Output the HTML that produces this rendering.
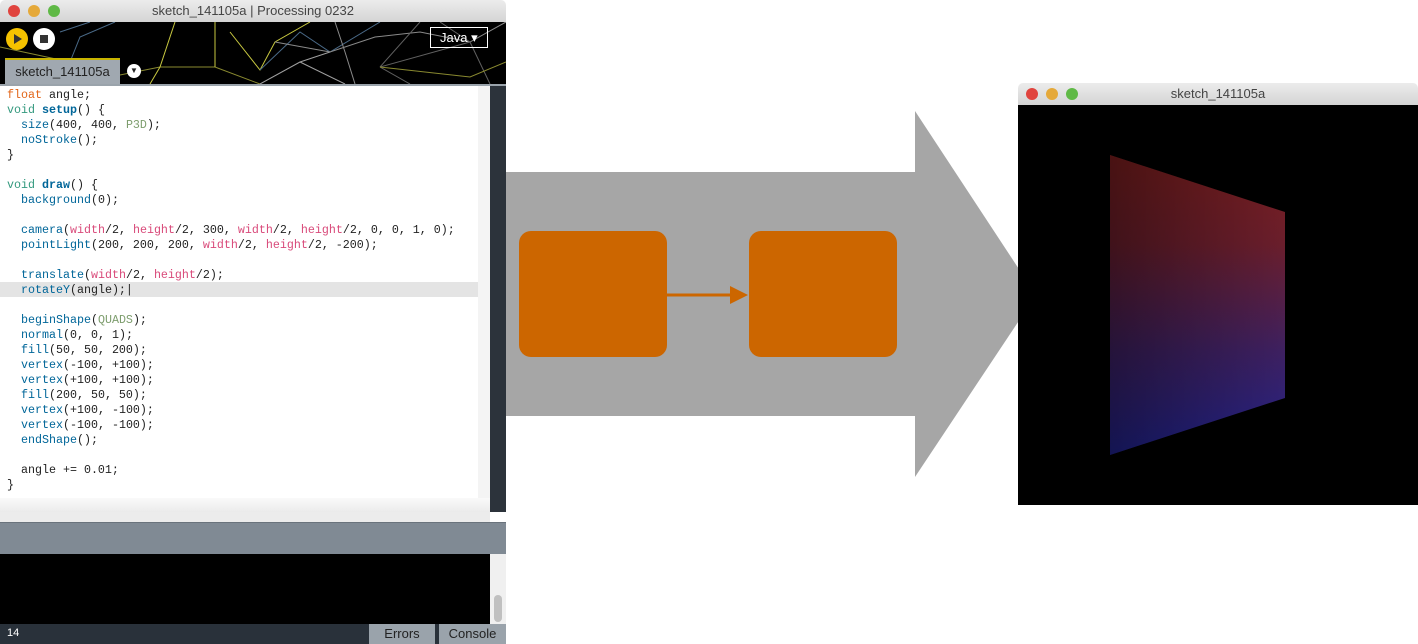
<!DOCTYPE html>
<html><head><style>
body{margin:0;width:1418px;height:644px;background:#fff;position:relative;overflow:hidden;font-family:"Liberation Sans",sans-serif}
.a{position:absolute}
.code{font-family:"Liberation Mono",monospace;font-size:11.67px;line-height:15px;white-space:pre;color:#222}
.k{color:#33997e}.f{color:#006699}.fb{color:#006699;font-weight:bold}.o{color:#e2661a}.p{color:#d94a7a}.g{color:#7d9d6d}
</style></head><body>
<!-- left window -->
<div class="a" style="left:0;top:0;width:506px;height:22px;background:linear-gradient(#ececec,#d4d4d4);border-radius:5px 5px 0 0"></div>
<div class="a" style="top:5px;left:8px;width:12px;height:12px;border-radius:6px;background:#e0443e"></div>
<div class="a" style="top:5px;left:28px;width:12px;height:12px;border-radius:6px;background:#e5a93a"></div>
<div class="a" style="top:5px;left:48px;width:12px;height:12px;border-radius:6px;background:#5fb946"></div>
<div class="a" style="left:0;top:3px;width:506px;text-align:center;font-size:13px;color:#444">sketch_141105a | Processing 0232</div>
<div class="a" style="left:0;top:22px;width:506px;height:62px;background:#000"></div>
<svg class="a" style="left:0;top:22px" width="506" height="62">
<g stroke-width="1" fill="none">
<path d="M0,25 L70,40 L110,55 L160,45 L215,45 L260,62" stroke="#8a8a30"/>
<path d="M175,0 L160,45 L150,62 M215,0 L215,45 M230,10 L260,48 L275,20 L310,0" stroke="#c8c840"/>
<path d="M60,10 L90,0 M70,40 L80,15 L115,0 M260,48 L300,10 L330,30 L380,0" stroke="#4a6a88"/>
<path d="M275,20 L330,30 L375,15 L420,10 L470,20 L506,0 M335,0 L345,30 M345,30 L355,62" stroke="#8a8a8a"/>
<path d="M380,45 L410,62 M380,45 L470,20 M380,45 L420,0 M470,20 L490,62 M440,0 L470,20" stroke="#606060"/>
<path d="M260,62 L300,40 L345,62 M300,40 L330,30" stroke="#a0a0a0"/>
<path d="M380,45 L470,55 L506,40" stroke="#8a8a30"/>
</g></svg>
<div class="a" style="left:6px;top:28px;width:22px;height:22px;border-radius:11px;background:#f5c200"></div>
<div class="a" style="left:14px;top:34px;width:0;height:0;border-left:8px solid #333;border-top:5px solid transparent;border-bottom:5px solid transparent"></div>
<div class="a" style="left:33px;top:28px;width:22px;height:22px;border-radius:11px;background:#fff"></div>
<div class="a" style="left:40px;top:35px;width:8px;height:8px;background:#333"></div>
<div class="a" style="left:430px;top:27px;width:56px;height:19px;border:1px solid #fff;color:#fff;font-size:13px;line-height:19px;text-indent:9px">Java ▾</div>
<div class="a" style="left:5px;top:58px;width:115px;height:26px;background:#a0a8b0;border-top:2px solid #c8b400;box-sizing:border-box;font-size:13px;line-height:24px;text-align:center;color:#222">sketch_141105a</div>
<div class="a" style="left:127px;top:64px;width:14px;height:14px;border-radius:7px;background:#fff;font-size:8px;text-align:center;line-height:14px;color:#222">▼</div>
<div class="a" style="left:0;top:84px;width:506px;height:2px;background:#9aa3ab"></div>
<div class="a" style="left:0;top:86px;width:478px;height:412px;background:#fff"></div>
<div class="a" style="left:478px;top:86px;width:12px;height:412px;background:#f4f4f4"></div>
<div class="a" style="left:490px;top:86px;width:16px;height:426px;background:#2c333b"></div>
<div class="a" style="left:0;top:282px;width:478px;height:15px;background:#e4e4e4"></div>
<div class="a code" style="left:7px;top:88px"><span class="o">float</span> angle;
<span class="k">void</span> <span class="fb">setup</span>() {
  <span class="f">size</span>(400, 400, <span class="g">P3D</span>);
  <span class="f">noStroke</span>();
}

<span class="k">void</span> <span class="fb">draw</span>() {
  <span class="f">background</span>(0);

  <span class="f">camera</span>(<span class="p">width</span>/2, <span class="p">height</span>/2, 300, <span class="p">width</span>/2, <span class="p">height</span>/2, 0, 0, 1, 0);
  <span class="f">pointLight</span>(200, 200, 200, <span class="p">width</span>/2, <span class="p">height</span>/2, -200);

  <span class="f">translate</span>(<span class="p">width</span>/2, <span class="p">height</span>/2);
  <span class="f">rotateY</span>(angle);|

  <span class="f">beginShape</span>(<span class="g">QUADS</span>);
  <span class="f">normal</span>(0, 0, 1);
  <span class="f">fill</span>(50, 50, 200);
  <span class="f">vertex</span>(-100, +100);
  <span class="f">vertex</span>(+100, +100);
  <span class="f">fill</span>(200, 50, 50);
  <span class="f">vertex</span>(+100, -100);
  <span class="f">vertex</span>(-100, -100);
  <span class="f">endShape</span>();

  angle += 0.01;
}</div>
<div class="a" style="left:0;top:498px;width:490px;height:14px;background:linear-gradient(#fafafa,#ebebeb)"></div>
<div class="a" style="left:0;top:512px;width:490px;height:10px;background:#ececec"></div>
<div class="a" style="left:0;top:522px;width:506px;height:32px;background:#808a94;border-top:1px solid #6a737c"></div>
<div class="a" style="left:0;top:554px;width:490px;height:70px;background:#000"></div>
<div class="a" style="left:490px;top:554px;width:16px;height:70px;background:#f0f0f0"></div>
<div class="a" style="left:494px;top:595px;width:8px;height:27px;border-radius:4px;background:#c0c0c0"></div>
<div class="a" style="left:0;top:624px;width:506px;height:20px;background:#29313a"></div>
<div class="a" style="left:7px;top:627px;font-size:11px;color:#fff">14</div>
<div class="a" style="left:369px;top:624px;width:66px;height:20px;background:#9aa3ab;font-size:13px;line-height:19px;text-align:center;color:#222">Errors</div>
<div class="a" style="left:439px;top:624px;width:67px;height:20px;background:#9aa3ab;font-size:13px;line-height:19px;text-align:center;color:#222">Console</div>
<!-- big arrow -->
<svg class="a" style="left:0;top:0" width="1418" height="644">
<polygon points="506,172 915,172 915,111 1036,295 915,477 915,416 506,416" fill="#a6a6a6"/>
<rect x="519" y="231" width="148" height="126" rx="12" fill="#cc6600"/>
<rect x="749" y="231" width="148" height="126" rx="12" fill="#cc6600"/>
<line x1="667" y1="295" x2="732" y2="295" stroke="#cc6600" stroke-width="3"/>
<polygon points="748,295 730,286 730,304" fill="#cc6600"/>
</svg>
<!-- right window -->
<div class="a" style="left:1018px;top:83px;width:400px;height:22px;background:linear-gradient(#ececec,#d4d4d4);border-radius:5px 5px 0 0"></div>
<div class="a" style="top:88px;left:1026px;width:12px;height:12px;border-radius:6px;background:#e0443e"></div>
<div class="a" style="top:88px;left:1046px;width:12px;height:12px;border-radius:6px;background:#e5a93a"></div>
<div class="a" style="top:88px;left:1066px;width:12px;height:12px;border-radius:6px;background:#5fb946"></div>
<div class="a" style="left:1018px;top:86px;width:400px;text-align:center;font-size:13px;color:#444">sketch_141105a</div>
<div class="a" style="left:1018px;top:105px;width:400px;height:400px;background:#000"></div>
<svg class="a" style="left:0;top:0" width="1418" height="644">
<defs>
<linearGradient id="v" x1="0" y1="155" x2="0" y2="455" gradientUnits="userSpaceOnUse"><stop offset="0" stop-color="#7a1e1e"/><stop offset="0.3" stop-color="#6a1e2c"/><stop offset="0.65" stop-color="#3e2060"/><stop offset="1" stop-color="#20228a"/></linearGradient>
<linearGradient id="h" x1="1110" y1="0" x2="1285" y2="0" gradientUnits="userSpaceOnUse"><stop offset="0" stop-color="#000" stop-opacity="0.4"/><stop offset="1" stop-color="#000" stop-opacity="0"/></linearGradient>
</defs>
<polygon points="1110,155 1285,212 1285,398 1110,455" fill="url(#v)"/>
<polygon points="1110,155 1285,212 1285,398 1110,455" fill="url(#h)"/>
</svg>
</body></html>
